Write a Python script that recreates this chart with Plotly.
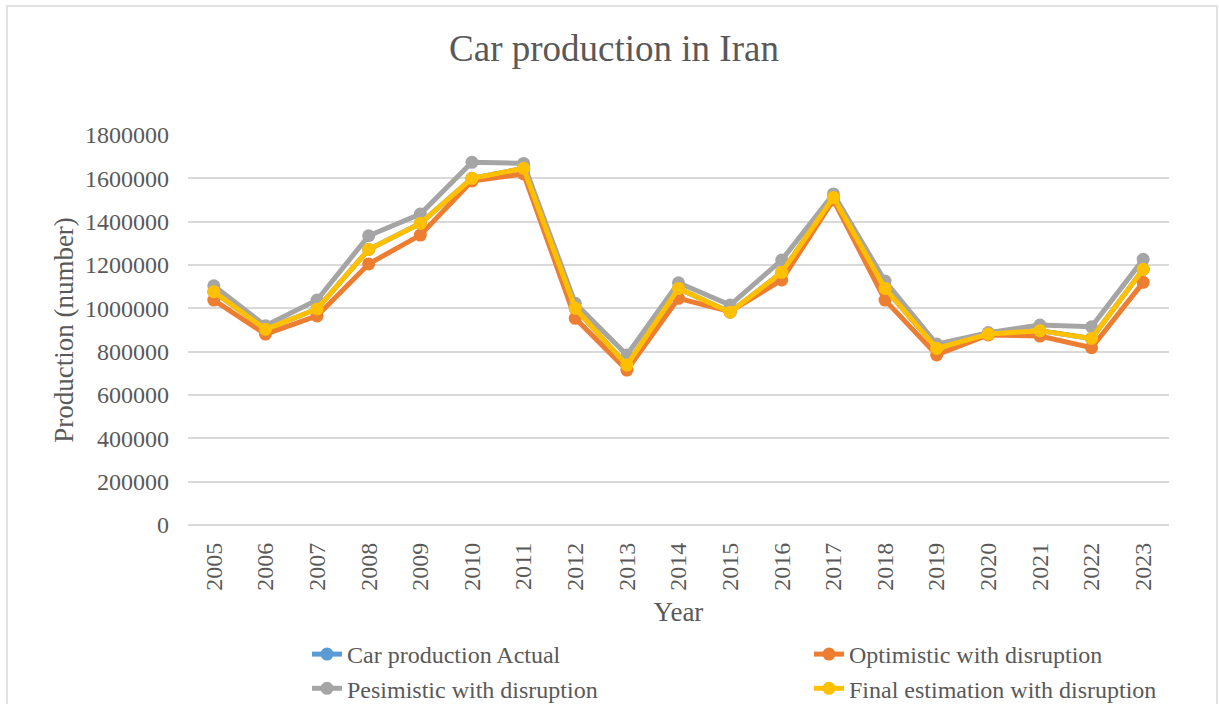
import plotly.graph_objects as go

years = [str(y) for y in range(2005, 2024)]
actual = [1077000, 903000, 997000, 1272000, 1392000, 1600000, 1646000, 1000000, 738000, 1092000,
          982000, 1166000, 1512000, 1092000, 815000, 881000, 897000, 861000, 1180000]
optimistic = [1038000, 881000, 965000, 1205000, 1338000, 1588000, 1620000, 954000, 715000, 1046000,
              985000, 1131000, 1500000, 1038000, 785000, 877000, 872000, 818000, 1120000]
pessimistic = [1104000, 920000, 1038000, 1335000, 1435000, 1674000, 1669000, 1023000, 785000, 1118000,
               1015000, 1223000, 1528000, 1126000, 835000, 888000, 923000, 915000, 1226000]
final_est = [1077000, 903000, 997000, 1272000, 1392000, 1600000, 1646000, 1000000, 738000, 1092000,
             982000, 1166000, 1512000, 1092000, 815000, 881000, 897000, 861000, 1180000]

names = ["Car production Actual", "Optimistic with disruption",
         "Pesimistic with disruption", "Final estimation with disruption"]
colors = ["#5B9BD5", "#ED7D31", "#A5A5A5", "#FFC000"]
series = [actual, optimistic, pessimistic, final_est]
legends = ["legend", "legend2", "legend", "legend2"]

FONT = "Liberation Serif, Times New Roman, serif"
GREY = "#595959"

fig = go.Figure()
for name, col, vals, lg in zip(names, colors, series, legends):
    fig.add_trace(go.Scatter(
        x=years, y=vals, name=name, mode="lines+markers",
        line=dict(color=col, width=5),
        marker=dict(color=col, size=13),
        legend=lg,
    ))

# plot area geometry (pixels)
L, R, T, B = 188, 50, 135, 179
W, H = 1219, 704
pw, ph = W - L - R, H - T - B

def px_x(p):
    return (p - L) / pw

def px_y(p):
    return (H - B - p) / ph

fig.update_layout(
    width=W, height=H,
    margin=dict(l=L, r=R, t=T, b=B, autoexpand=False),
    paper_bgcolor="white", plot_bgcolor="white",
    font=dict(family=FONT, color=GREY, size=24),
    title=dict(text="Car production in Iran", x=614 / W, xanchor="center",
               y=1 - 48 / H, yanchor="middle",
               font=dict(family=FONT, size=37, color=GREY)),
    xaxis=dict(
        type="category", range=[-0.5, 18.5], automargin=False,
        tickangle=-90, showgrid=False, showline=False, zeroline=False,
        ticks="", ticklabelstandoff=12,
        tickfont=dict(family=FONT, size=24, color=GREY),
        title=dict(text="Year", standoff=12, font=dict(family=FONT, size=27, color=GREY)),
    ),
    yaxis=dict(
        range=[0, 1800000], dtick=200000, tickformat="d", automargin=False,
        showgrid=True, gridcolor="#D9D9D9", gridwidth=1.5,
        zeroline=True, zerolinecolor="#D9D9D9", zerolinewidth=1.5,
        showline=False, ticks="", ticklabelstandoff=18,
        tickfont=dict(family=FONT, size=24, color=GREY),
        title=dict(text="Production (number)", standoff=3,
                   font=dict(family=FONT, size=27, color=GREY)),
    ),
    legend=dict(x=px_x(307), xanchor="left", y=px_y(632), yanchor="top",
                orientation="v", font=dict(family=FONT, size=24, color=GREY),
                bgcolor="rgba(0,0,0,0)", tracegroupgap=0),
    legend2=dict(x=px_x(809), xanchor="left", y=px_y(632), yanchor="top",
                 orientation="v", font=dict(family=FONT, size=24, color=GREY),
                 bgcolor="rgba(0,0,0,0)", tracegroupgap=0),
    shapes=[dict(type="rect", xref="paper", yref="paper",
                 x0=px_x(7), x1=px_x(1217), y0=px_y(760), y1=px_y(6),
                 line=dict(color="#D9D9D9", width=1.5), fillcolor="rgba(0,0,0,0)",
                 layer="below")],
)

fig.write_html("out.html")
